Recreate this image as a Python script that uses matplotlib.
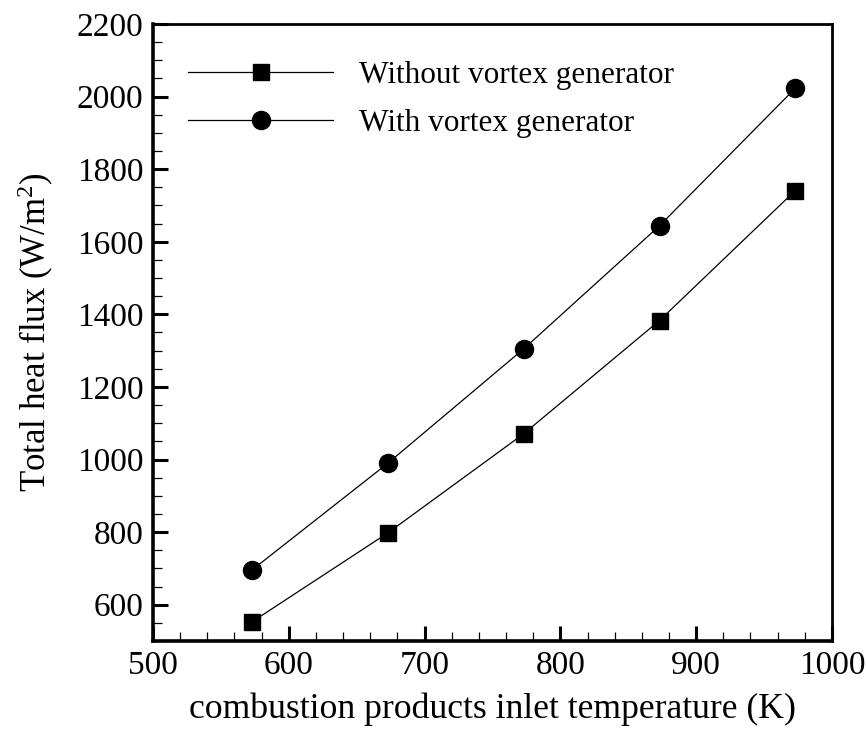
import matplotlib
matplotlib.use("Agg")
import matplotlib.pyplot as plt
from matplotlib.ticker import MultipleLocator

# inlet temperature of the combustion products (K)
temperature = [573, 673, 773, 873, 973]
# total heat flux (W/m^2)
flux_without_vg = [553, 798, 1071, 1383, 1741]
flux_with_vg = [696, 990, 1305, 1644, 2023]

plt.rcParams['font.family'] = ['Liberation Serif', 'DejaVu Serif']
plt.rcParams['mathtext.fontset'] = 'custom'
plt.rcParams['mathtext.rm'] = 'Liberation Serif'
plt.rcParams['mathtext.default'] = 'regular'

fig = plt.figure(figsize=(8.66, 7.31), dpi=100)
ax = fig.add_axes([0.1767, 0.1231, 0.7840, 0.8441])

ax.plot(temperature, flux_without_vg, color='black', lw=0.9, marker='s', ms=11,
        label='Without vortex generator')
ax.plot(temperature, flux_with_vg, color='black', lw=0.9, marker='o', ms=13,
        label='With vortex generator')

ax.set_xlim(500, 1000)
ax.set_ylim(500, 2200)
ax.xaxis.set_major_locator(MultipleLocator(100))
ax.xaxis.set_minor_locator(MultipleLocator(20))
ax.set_yticks([600, 800, 1000, 1200, 1400, 1600, 1800, 2000, 2200])
ax.set_yticks(range(500, 2201, 50), minor=True)

ax.tick_params(which='both', direction='in', top=False, right=False, labelsize=24)
ax.tick_params(which='major', length=11, width=2.2)
ax.tick_params(which='minor', length=6.5, width=0.9)
ax.tick_params(axis='y', which='major', pad=7)
ax.tick_params(axis='x', which='major', pad=7)

for side in ['left', 'bottom']:
    ax.spines[side].set_linewidth(2.6)
for side in ['top', 'right']:
    ax.spines[side].set_linewidth(2.0)

ax.set_xlabel('combustion products inlet temperature (K)', fontsize=25.7, labelpad=8)
ax.set_ylabel('Total heat flux (W/m$^2$)', fontsize=25, labelpad=15)

ax.legend(loc='upper left', bbox_to_anchor=(0.033, 0.96), frameon=False, fontsize=22.5,
          handlelength=4.65, handletextpad=0.84, labelspacing=0.6, borderaxespad=0)

fig.savefig('out.png', dpi=100)
